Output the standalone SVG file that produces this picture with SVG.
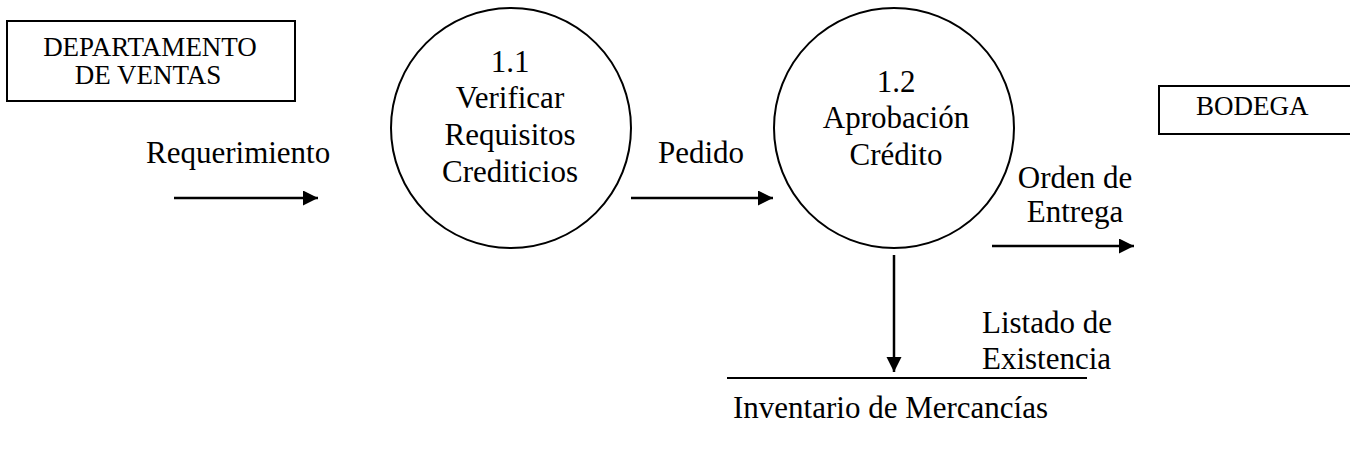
<svg xmlns="http://www.w3.org/2000/svg" width="1350" height="456" viewBox="0 0 1350 456" font-family="Liberation Serif, serif">
<style>
text{font-family:'Liberation Serif',serif;fill:#000}
.t{font-size:31px}
.b{font-size:27px}
.m{text-anchor:middle}
.shape{fill:#fff;stroke:#000;stroke-width:2}
.flow{stroke:#000;stroke-width:2.5;fill:none}
</style>
<defs>
<marker id="ah" markerWidth="16" markerHeight="16" refX="15" refY="7.5" orient="auto" markerUnits="userSpaceOnUse">
<path d="M0,0 L15,7.5 L0,15 Z" fill="#000"/>
</marker>
</defs>
<rect width="1350" height="456" fill="#fff"/>
<g id="departamento">
<rect class="shape" x="7" y="21" width="288" height="80"/>
<text class="b m" x="150" y="56">DEPARTAMENTO</text>
<text class="b m" x="148" y="84">DE VENTAS</text>
</g>
<g id="p11">
<circle class="shape" cx="511" cy="128" r="120"/>
<text class="t m" x="510" y="72">1.1</text>
<text class="t m" x="510" y="108">Verificar</text>
<text class="t m" x="510" y="145">Requisitos</text>
<text class="t m" x="510" y="182">Crediticios</text>
</g>
<g id="p12">
<circle class="shape" cx="894" cy="128" r="120"/>
<text class="t m" x="896" y="92">1.2</text>
<text class="t m" x="896" y="128">Aprobación</text>
<text class="t m" x="896" y="165">Crédito</text>
</g>
<g id="bodega">
<rect class="shape" x="1159" y="86" width="200" height="48"/>
<text class="b" x="1196" y="115">BODEGA</text>
</g>
<g id="inventario">
<line x1="727" y1="378" x2="1087" y2="378" stroke="#000" stroke-width="2"/>
<text class="t" x="733" y="418">Inventario de Mercancías</text>
</g>
<g id="connectors">
<line class="flow" x1="174" y1="198" x2="318" y2="198" marker-end="url(#ah)"/>
<text class="t" x="146" y="163">Requerimiento</text>
<line class="flow" x1="631" y1="198" x2="773" y2="198" marker-end="url(#ah)"/>
<text class="t" x="658" y="163">Pedido</text>
<line class="flow" x1="992" y1="246" x2="1134" y2="246" marker-end="url(#ah)"/>
<text class="t m" x="1075" y="188">Orden de</text>
<text class="t m" x="1075" y="222">Entrega</text>
<line class="flow" x1="894" y1="255" x2="894" y2="372" marker-end="url(#ah)"/>
<text class="t" x="982" y="333">Listado de</text>
<text class="t" x="982" y="369">Existencia</text>
</g>
</svg>
